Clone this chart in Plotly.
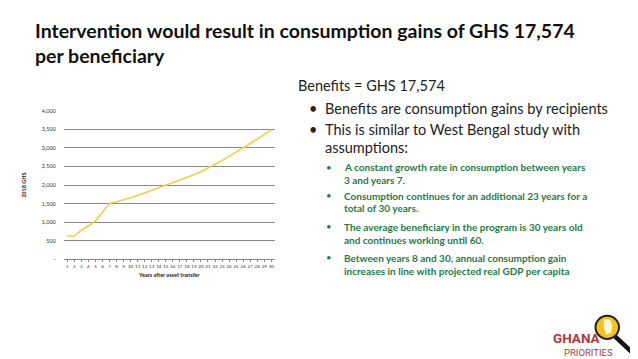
import plotly.graph_objects as go

W, H = 638, 359

years = list(range(1, 31))
ghs = [630, 630, 790, 900, 1040, 1260, 1510, 1555, 1603, 1658, 1722, 1790, 1856, 1922,
       1990, 2055, 2125, 2200, 2280, 2360, 2470, 2560, 2660, 2770, 2880, 3000, 3120,
       3240, 3370, 3490]
y_ticks = [0, 500, 1000, 1500, 2000, 2500, 3000, 3500, 4000]
y_tick_labels = ["-", "500", "1,000", "1,500", "2,000", "2,500", "3,000", "3,500", "4,000"]

title_lines = ["Intervention would result in consumption gains of GHS 17,574", "per beneficiary"]
heading = "Benefits = GHS 17,574"
bullets = [["Benefits are consumption gains by recipients"],
           ["This is similar to West Bengal study with", "assumptions:"]]
sub_bullets = [["A constant growth rate in consumption between years", "3 and years 7."],
               ["Consumption continues for an additional 23 years for a", "total of 30 years."],
               ["The average beneficiary in the program is 30 years old", "and continues working until 60."],
               ["Between years 8 and 30, annual consumption gain", "increases in line with projected real GDP per capita"]]

def px(x):
    return x / W

def py(y):
    return 1 - y / H

fig = go.Figure()
fig.add_trace(go.Scatter(x=years, y=ghs, mode="lines",
                         line=dict(color="#F2CF45", width=1.6), showlegend=False,
                         hoverinfo="skip"))

FONT = "Lato"
fig.update_layout(
    width=W, height=H, margin=dict(l=0, r=0, t=0, b=0),
    paper_bgcolor="white", plot_bgcolor="white",
    font=dict(family=FONT, color="#222"),
    xaxis=dict(domain=[px(55.8), px(266.8)], range=[0.5, 30.5], tickvals=years,
               ticktext=[str(v) for v in years], tickfont=dict(size=4.5, color="#333"),
               tickangle=0, showgrid=False, showline=True, linecolor="#888", linewidth=1,
               ticks="outside", ticklen=2, tickcolor="#888", zeroline=False,
               title=dict(text="<b>Years after asset transfer</b>", font=dict(size=5.5, color="#222"),
                          standoff=5)),
    yaxis=dict(domain=[py(252.7), py(101.5)], range=[0, 4000], tickvals=y_ticks,
               ticktext=y_tick_labels, tickfont=dict(size=5.5, color="#333"),
               showgrid=True, gridcolor="#8a8a8a", gridwidth=1, zeroline=False,
               showline=False, ticks="", ticklabelstandoff=7,
               title=dict(text="<b>2018 GHS</b>", font=dict(size=5.5, color="#222"),
                          standoff=14)),
)

ann = []
for i, t in enumerate(title_lines):
    ann.append(dict(x=px(25), y=py(20 + 25 * i), xref="paper", yref="paper", text="<b>" + t + "</b>",
                    showarrow=False, xanchor="left", yanchor="middle",
                    font=dict(size=19.5, color="#111", family=FONT)))
ann.append(dict(x=px(288), y=py(76), xref="paper", yref="paper", text=heading, showarrow=False,
                xanchor="left", yanchor="middle", font=dict(size=14.5, color="#222", family=FONT)))
by = [[99.3], [120.7, 139.3]]
for lines, ys in zip(bullets, by):
    ann.append(dict(x=px(299), y=py(ys[0]), xref="paper", yref="paper", text="•", showarrow=False,
                    xanchor="left", yanchor="middle", font=dict(size=14.5, color="#222", family=FONT)))
    for t, yy in zip(lines, ys):
        ann.append(dict(x=px(315), y=py(yy), xref="paper", yref="paper", text=t, showarrow=False,
                        xanchor="left", yanchor="middle", font=dict(size=14.5, color="#222", family=FONT)))
sy = [[159, 172], [187.7, 200.5], [219.3, 233], [251, 264]]
for lines, ys in zip(sub_bullets, sy):
    ann.append(dict(x=px(316), y=py(ys[0]), xref="paper", yref="paper", text="•", showarrow=False,
                    xanchor="left", yanchor="middle", font=dict(size=9.5, color="#1E7B45", family=FONT)))
    for t, yy in zip(lines, ys):
        ann.append(dict(x=px(334), y=py(yy), xref="paper", yref="paper", text="<b>" + t + "</b>",
                        showarrow=False, xanchor="left", yanchor="middle",
                        font=dict(size=10, color="#1E7B45", family=FONT)))
ann.append(dict(x=px(543), y=py(333), xref="paper", yref="paper", text="<b>GHANA</b>", showarrow=False,
                xanchor="left", yanchor="middle", font=dict(size=13.5, color="#B5363B", family="Roboto")))
ann.append(dict(x=px(554), y=py(347), xref="paper", yref="paper", text="PRIORITIES", showarrow=False,
                xanchor="left", yanchor="middle", font=dict(size=9.5, color="#A0453F", family="Roboto")))
fig.update_layout(annotations=ann)

shapes = [
    dict(type="line", xref="paper", yref="paper", x0=px(607), y0=py(331), x1=px(624), y1=py(347),
         line=dict(color="#111", width=4.5)),
    dict(type="circle", xref="paper", yref="paper", x0=px(587.5), y0=py(310), x1=px(611), y1=py(333.5),
         fillcolor="#F5C21B", line=dict(color="#222", width=2)),
    dict(type="path", xref="paper", yref="paper",
         path=f"M {px(596)} {py(314)} L {px(602)} {py(314)} L {px(604)} {py(320)} L {px(603)} {py(327)} "
              f"L {px(598)} {py(329)} L {px(596)} {py(322)} Z",
         fillcolor="#FFF6D8", line=dict(color="#FFF6D8", width=0.5)),
]
fig.update_layout(shapes=shapes)

fig.write_html("out.html")
